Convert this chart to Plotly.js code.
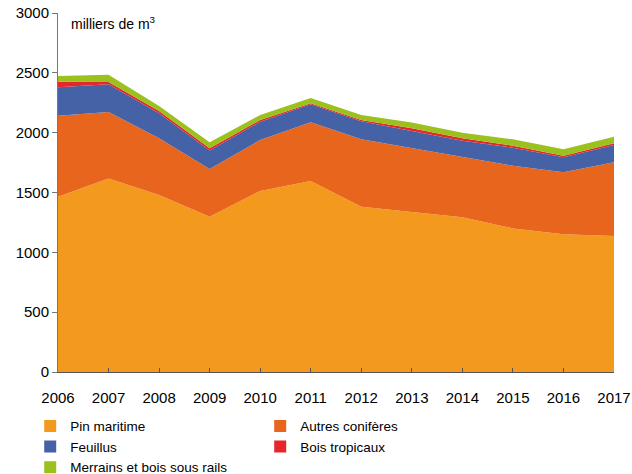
<!DOCTYPE html>
<html>
<head>
<meta charset="utf-8">
<script src="https://cdn.plot.ly/plotly-3.0.1.min.js"></script>
<style>html,body{margin:0;padding:0;background:#fff;}#chart{width:632px;height:474px;}</style>
</head>
<body>
<div id="chart"></div>
<script>
var years = [2006, 2007, 2008, 2009, 2010, 2011, 2012, 2013, 2014, 2015, 2016, 2017];
var pinMaritime = [1465, 1618, 1480, 1298, 1513, 1596, 1381, 1340, 1293, 1200, 1151, 1137];
var autresConiferes = [677, 555, 473, 398, 426, 491, 563, 529, 506, 524, 518, 615];
var feuillus = [237, 231, 209, 154, 153, 150, 151, 145, 134, 151, 125, 145];
var boisTropicaux = [47, 19, 20, 19, 14, 8, 11, 22, 20, 16, 14, 14];
var merrains = [48, 62, 41, 50, 42, 45, 42, 48, 47, 53, 53, 55];
var yTicks = [0, 500, 1000, 1500, 2000, 2500, 3000];

var names = ["Pin maritime", "Autres conifères", "Feuillus", "Bois tropicaux", "Merrains et bois sous rails"];
var series = [pinMaritime, autresConiferes, feuillus, boisTropicaux, merrains];
var colors = ["#F39A1E", "#E8651E", "#4662A6", "#E5262A", "#9BC11E"];

var traces = series.map(function (s, i) {
  return {
    x: years, y: s, name: names[i], type: "scatter", mode: "lines",
    stackgroup: "one", line: {width: 0, color: colors[i]}, fillcolor: colors[i],
    showlegend: false, hoverinfo: "x+y+name"
  };
});
// legend-only entries (square swatches), no drawn data
names.forEach(function (n, i) {
  traces.push({
    x: [years[0]], y: [null], name: n, type: "bar",
    marker: {color: colors[i], line: {width: 0}}, showlegend: true, hoverinfo: "skip"
  });
});

var layout = {
  width: 632, height: 474,
  margin: {l: 58, r: 18, t: 13, b: 102, autoexpand: false},
  paper_bgcolor: "#fff", plot_bgcolor: "#fff",
  font: {family: "Liberation Sans, Arial, sans-serif", size: 15, color: "#000"},
  showlegend: true,
  xaxis: {
    range: [2006, 2017], tickvals: years, ticktext: years.map(String),
    showgrid: false, zeroline: false, showline: true, linecolor: "#555", linewidth: 1,
    ticks: "inside", ticklen: 4, tickcolor: "#555", tickfont: {size: 15},
    ticklabelstandoff: 12, automargin: false
  },
  yaxis: {
    range: [0, 3000], tickvals: yTicks, showgrid: false, zeroline: false,
    showline: true, linecolor: "#777", linewidth: 1,
    ticks: "outside", ticklen: 5, tickcolor: "#777", tickfont: {size: 15}, automargin: false
  },
  legend: {
    orientation: "h", x: -0.05, xanchor: "left", y: -0.108, yanchor: "top",
    entrywidth: 185, entrywidthmode: "pixels", traceorder: "normal",
    font: {size: 13.5}, itemwidth: 30, bgcolor: "rgba(0,0,0,0)"
  },
  annotations: [{
    xref: "paper", yref: "paper", x: 0.02, y: 0.972, xanchor: "left", yanchor: "middle",
    text: "milliers de m<sup>3</sup>", showarrow: false, font: {size: 14}
  }]
};

Plotly.newPlot("chart", traces, layout, {displayModeBar: false, staticPlot: true});
</script>
</body>
</html>
